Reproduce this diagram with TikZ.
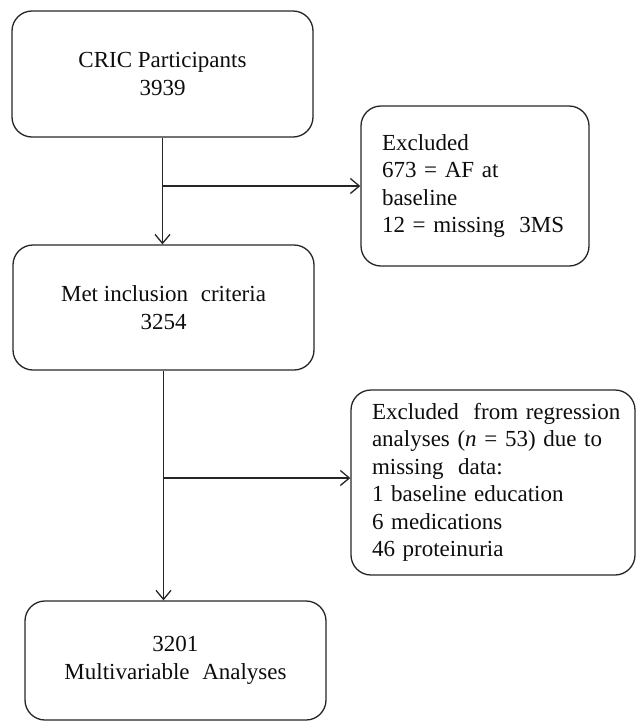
\documentclass[tikz,border=0pt]{standalone}
\usepackage{fontspec}
\setmainfont{Liberation Serif}
\usetikzlibrary{arrows.meta,calc}
\begin{document}
\begin{tikzpicture}[x=1pt,y=1pt,
  line width=1.3pt,
  every node/.style={font=\fontsize{23}{27.5}\selectfont, text=black!95},
  box/.style={draw=black!85, rounded corners=20pt, inner sep=0pt, line width=1.3pt},
  cbox/.style={box, align=center},
  lbox/.style={box, align=left, inner xsep=21pt},
  arr/.style={draw=black!85, -{Straight Barb[length=9pt,width=15pt,line width=1.3pt]}}
]
\useasboundingbox (0,0) rectangle (636,-721);
\node[cbox, minimum width=301pt, minimum height=126pt] (b1) at (162.5,-74) {CRIC Participants\\3939};
\node[lbox, text width=186pt, minimum height=160pt] (b2) at (475,-186) {\mbox{Excluded}\\\mbox{673 = AF at}\\\mbox{baseline}\\\mbox{12 = missing\hspace{0.3em} 3MS}};
\node[cbox, minimum width=301pt, minimum height=125pt] (b3) at (163.5,-307.5) {Met inclusion\hspace{0.3em} criteria\\3254};
\node[lbox, text width=242pt, minimum height=185pt] (b4) at (493,-482.5) {\mbox{Excluded\hspace{0.3em} from regression}\\\mbox{analyses (\textit{n} = 53) due to}\\\mbox{missing\hspace{0.3em} data:}\\\mbox{1 baseline education}\\\mbox{6 medications}\\\mbox{46 proteinuria}};
\node[cbox, minimum width=301pt, minimum height=119pt] (b5) at (175.5,-660.5) {3201\\Multivariable\hspace{0.3em} Analyses};
\coordinate (j1) at (b1.south |- b2.west);
\coordinate (j2) at ($(b1.south |- b4.west)+(0,4.5)$);
\draw[arr] (b1.south) -- (b1.south |- b3.north);
\draw[arr] (j1) -- (b2.west);
\draw[arr] (b3.south) -- (b3.south |- b5.north);
\draw[arr] (j2) -- (j2 -| b4.west);
\end{tikzpicture}
\end{document}
